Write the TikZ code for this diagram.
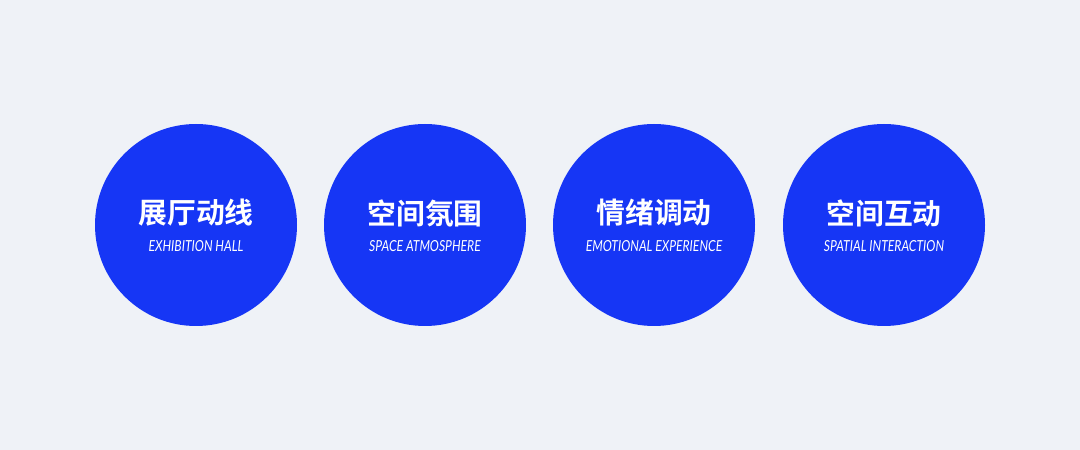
\documentclass[tikz,border=0pt]{standalone}
\usepackage{fontspec}
\newfontfamily\cjk{Noto Sans CJK SC}[BoldFont=Noto Sans CJK SC Bold]
\newfontfamily\en{Lato}[FakeStretch=0.8]
\definecolor{bgcolor}{RGB}{239, 242, 247}
\definecolor{topicblue}{RGB}{22, 54, 245}

\begin{document}
\begin{tikzpicture}[x=1pt, y=1pt,
    topic/.style={circle, fill=topicblue, minimum size=202pt, inner sep=0pt},
    title/.style={text=white, inner sep=0pt, font=\cjk\bfseries\fontsize{28.8}{29}\selectfont},
    subtitle/.style={text=white, inner sep=0pt, font=\en\itshape\fontsize{15.2}{15}\selectfont}]
    % background
    \fill [bgcolor] (0, 0) rectangle (1080, 450);
    % four topics
    \node [topic] (hall) at (196, 225) {};
    \node [title] (hall title) at (hall.center) [yshift=12pt] {展厅动线};
    \node [subtitle] (hall sub) at (hall.center) [yshift=-21pt] {EXHIBITION HALL};

    \node [topic] (space) at (425, 225) {};
    \node [title] (space title) at (space.center) [yshift=12pt] {空间氛围};
    \node [subtitle] (space sub) at (space.center) [yshift=-21pt] {SPACE ATMOSPHERE};

    \node [topic] (emotion) at (654, 225) {};
    \node [title] (emotion title) at (emotion.center) [yshift=12pt] {情绪调动};
    \node [subtitle] (emotion sub) at (emotion.center) [yshift=-21pt] {EMOTIONAL EXPERIENCE};

    \node [topic] (interact) at (884, 225) {};
    \node [title] (interact title) at (interact.center) [yshift=12pt] {空间互动};
    \node [subtitle] (interact sub) at (interact.center) [yshift=-21pt] {SPATIAL INTERACTION};
\end{tikzpicture}
\end{document}
